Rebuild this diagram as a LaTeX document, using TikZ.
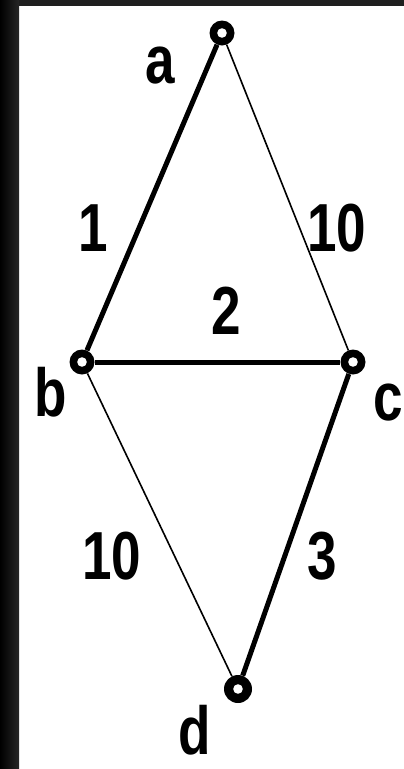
\documentclass[tikz,border=0pt]{standalone}
\usepackage{fontspec}
\newfontfamily\lblfont[FakeStretch=0.78]{Liberation Sans}
\usetikzlibrary{positioning}

\begin{document}
\begin{tikzpicture}[x=1pt, y=-1pt,
    vert/.style={circle, fill=black, inner sep=0pt, minimum size=25pt,
      path picture={\fill[white] (path picture bounding box.center) circle (4.8pt);}},
    heavy/.style={line width=5pt},
    light/.style={line width=1.6pt},
    lbl/.style={font=\lblfont\bfseries\fontsize{68}{68}\selectfont, inner sep=0pt}]
      \useasboundingbox (0,0) rectangle (404,769);
      \fill[white] (0,0) rectangle (404,769);
      \fill[black!88] (0,0) rectangle (404,6);
      \shade[left color=black, right color=black!85] (0,0) rectangle (19,769);
      % vertices
      \node[vert] (a) at (222,33) {};
      \node[vert] (b) at (82,362) {};
      \node[vert] (c) at (353,362) {};
      \node[vert, minimum size=28pt] (d) at (238,689) {};
      % edges
      \draw[heavy] (a) -- (b);
      \draw[light] (a) -- (c);
      \draw[heavy] (b) -- (c);
      \draw[light] (b) -- (d);
      \draw[heavy] (c) -- (d);
      % names
      \node[lbl] (la) at (160,66) {a};
      \node[lbl] (lb) at (51,392) {b};
      \node[lbl] (lc) at (388,403) {c};
      \node[lbl] (ld) at (195,730) {d};
      % weights
      \node[lbl] (wab) at (93,228) {1};
      \node[lbl] (wac) at (337,228) {10};
      \node[lbl] (wbc) at (226,311) {2};
      \node[lbl] (wbd) at (112,556) {10};
      \node[lbl] (wcd) at (322,556) {3};
\end{tikzpicture}
\end{document}
